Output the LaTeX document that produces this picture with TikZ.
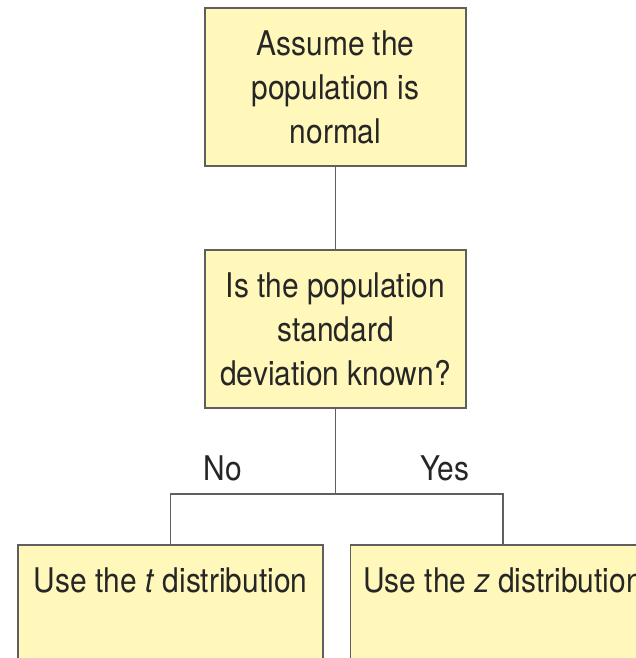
\documentclass[tikz,border=0pt]{standalone}
\usepackage{fontspec}
\setmainfont{TeX Gyre Heros}[FakeStretch=0.88]
\usetikzlibrary{positioning}
\definecolor{boxfill}{RGB}{255,248,186}
\definecolor{boxline}{RGB}{95,95,95}
\begin{document}
\begin{tikzpicture}[x=1pt,y=-1pt,font=\fontsize{34}{44}\selectfont]
\tikzstyle{b}=[draw=boxline,fill=boxfill,line width=1.6pt,minimum width=261pt,minimum height=158pt,align=center,inner sep=0pt,text=black!85]
\tikzstyle{wire}=[draw=boxline,line width=1.4pt]
\useasboundingbox (0,0) rectangle (636,658);
\clip (0,0) rectangle (636,658);
\node[b] (assume) at (335.5,87) {Assume the\\population is\\normal};
\node[b] (known) at (335.5,329) {Is the population\\standard\\deviation known?};
\node[b,minimum width=305pt] (tdist) at (170.5,624) {Use the \textit{t} distribution\\ ~\\ ~};
\node[b,minimum width=305pt] (zdist) at (503,624) {Use the \textit{z} distribution\\ ~\\ ~};
\coordinate (split) at (335.5,494);
\draw[wire] (assume) -- (known);
\draw[wire] (known) -- (split) -| (tdist);
\draw[wire] (split) -| (zdist);
\node[text=black!85] (no) at (223,468) {No};
\node[text=black!85] (yes) at (445,468) {Yes};
\end{tikzpicture}
\end{document}
